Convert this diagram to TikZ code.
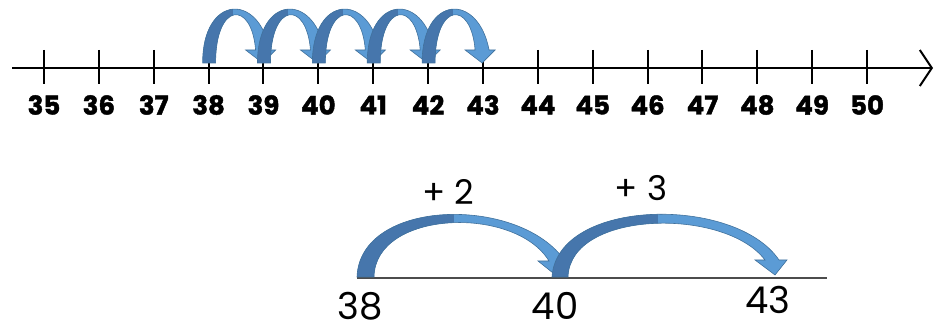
\documentclass[tikz,border=0pt]{standalone}
\usepackage{fontspec}
\setmainfont{Poppins}[BoldFeatures={FakeBold=1.6}]
\usetikzlibrary{arrows.meta,calc}
\definecolor{jumpdark}{RGB}{70,118,172}
\definecolor{jumplight}{RGB}{91,155,213}
\definecolor{jumpline}{RGB}{65,113,156}
\begin{document}
\begin{tikzpicture}[x=0.5pt, y=-0.5pt,
    axis/.style={line width=1.2pt, -{Straight Barb[length=6pt, width=18pt, line width=1pt]}},
    tick/.style={line width=1pt},
    toplabel/.style={font=\fontsize{13}{13}\selectfont\bfseries, inner sep=0pt},
    sumlabel/.style={font=\fontsize{18.5}{18.5}\selectfont, inner sep=0pt},
    steplabel/.style={font=\fontsize{17}{17}\selectfont, inner sep=0pt},
    jump/.style={fill=jumplight, draw=jumpline, line width=0.3pt,
        path picture={\fill[jumpdark] (path picture bounding box.north west) rectangle ($(path picture bounding box.south west)!#1!(path picture bounding box.south east)$);}},
    jump/.default=0.42
]
\useasboundingbox (0,0) rectangle (934,331);

% number line
\coordinate (axisL) at (12,68);
\coordinate (axisR) at (933,68);
\draw[axis] (axisL) -- (axisR);
\foreach \n [count=\i from 0] in {35,...,50} {
    \coordinate (t\n) at (44+\i*54.87,68);
    \draw[tick] (t\n) ++(0,-18) -- ++(0,34);
    \node[toplabel] (l\n) at (44+\i*54.87,105) {\n};
}

% jumps of one
\foreach \n in {38,...,42}
    \fill[jump, shift={(t\n)}] (-6,-5) .. controls (-6,-73) and (50,-76) .. (61,-18)
        -- (67,-18) -- (54,-5) -- (37,-18) -- (47,-18)
        .. controls (43,-68) and (7,-66) .. (7,-5) -- cycle;

% short line
\coordinate (b38) at (357,278);
\coordinate (bEnd) at (827,278);
\draw[line width=0.8pt, black!70] (b38) -- (bEnd);
\node[sumlabel] (n38) at (360,306) {38};
\node[sumlabel] (n40) at (555,306) {40};
\node[sumlabel] (n43) at (768,300) {43};

% +2 and +3
\fill[jump=0.45] (357,277) .. controls (360,198) and (520,195) .. (565,261)
    -- (572,261) -- (558,277) -- (538,261) -- (549,261)
    .. controls (515,205) and (375,210) .. (374,277) -- cycle;
\fill[jump=0.45] (552,277) .. controls (557,198) and (735,195) .. (779,260)
    -- (787,260) -- (775,275) -- (755,260) -- (765,260)
    .. controls (725,207) and (570,210) .. (568,277) -- cycle;
\node[steplabel] (p2) at (448,192) {+ 2};
\node[steplabel] (p3) at (641,188) {+ 3};
\end{tikzpicture}
\end{document}
